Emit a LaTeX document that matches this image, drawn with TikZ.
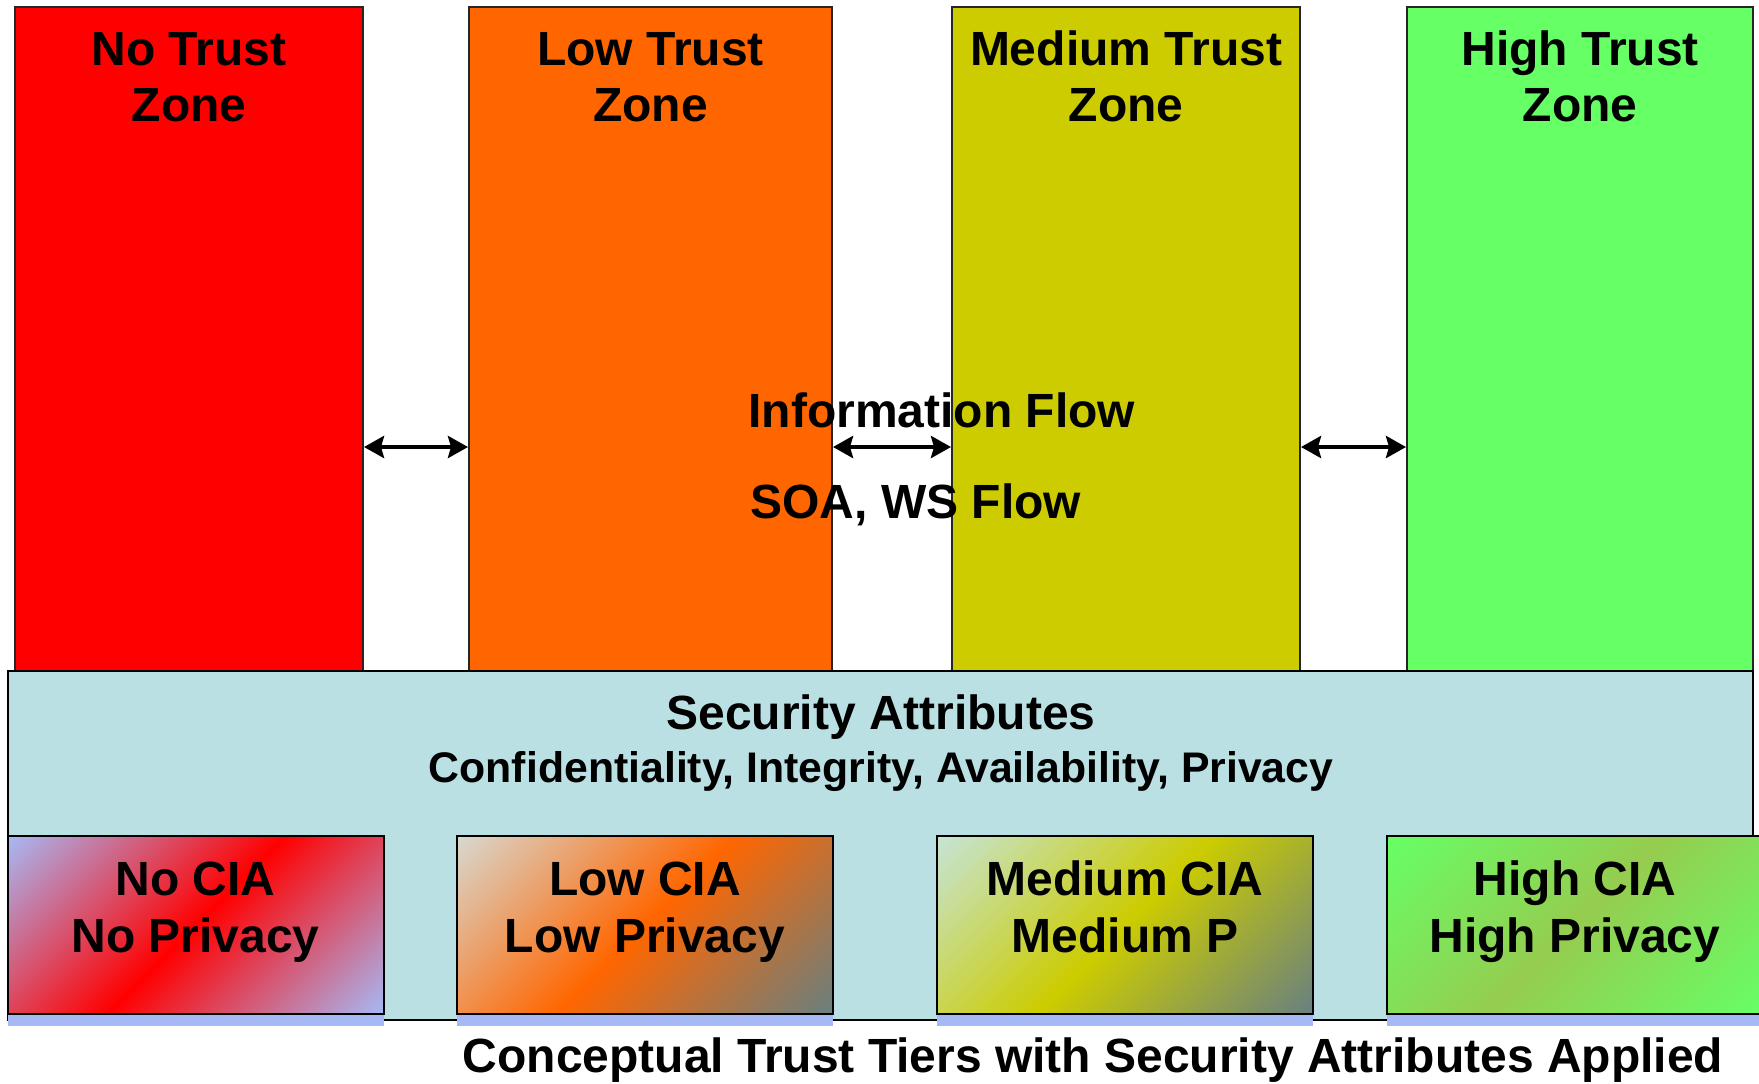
\documentclass[tikz,border=0pt]{standalone}
\usepackage{fontspec}
\setmainfont{Liberation Sans}
\usetikzlibrary{arrows.meta}

\definecolor{notrust}{RGB}{255,0,0}
\definecolor{lowtrust}{RGB}{255,102,0}
\definecolor{medtrust}{RGB}{204,204,0}
\definecolor{hightrust}{RGB}{102,255,102}
\definecolor{attrbg}{RGB}{186,224,227}
\definecolor{lilac}{RGB}{166,185,245}
\definecolor{palegrey}{RGB}{216,216,208}
\definecolor{palemint}{RGB}{198,228,214}
\definecolor{slate}{RGB}{104,128,128}
\definecolor{olive}{RGB}{150,204,80}

% diagonal bands for the CIA boxes (used with shading angle=45)
\pgfdeclareverticalshading{noband}{100bp}{color(0bp)=(lilac); color(14.6bp)=(lilac); color(50bp)=(notrust); color(85.4bp)=(lilac); color(100bp)=(lilac)}
\pgfdeclareverticalshading{lowband}{100bp}{color(0bp)=(slate); color(14.6bp)=(slate); color(50bp)=(lowtrust); color(85.4bp)=(palegrey); color(100bp)=(palegrey)}
\pgfdeclareverticalshading{medband}{100bp}{color(0bp)=(slate); color(14.6bp)=(slate); color(50bp)=(medtrust); color(85.4bp)=(palemint); color(100bp)=(palemint)}
\pgfdeclareverticalshading{highband}{100bp}{color(0bp)=(hightrust); color(14.6bp)=(hightrust); color(50bp)=(olive); color(85.4bp)=(hightrust); color(100bp)=(hightrust)}

\begin{document}
\begin{tikzpicture}[x=0.5pt,y=-0.5pt,
    zone/.style={draw=black!85,line width=1pt,inner sep=0pt,minimum height=332pt},
    ciabox/.style={draw=black,line width=1pt,inner sep=0pt,minimum width=188pt,minimum height=89pt,shade,shading=#1,shading angle=45},
    ciashadow/.style={fill=lilac,inner sep=0pt,minimum width=188pt,minimum height=6pt},
    bigtext/.style={font=\fontsize{24}{28}\selectfont\bfseries,inner sep=0pt,anchor=base},
    smalltext/.style={font=\fontsize{21.4}{26}\selectfont\bfseries,inner sep=0pt,anchor=base},
    flow/.style={{Stealth[length=10pt,width=11pt,inset=1.5pt]}-{Stealth[length=10pt,width=11pt,inset=1.5pt]},line width=2pt}]
  \useasboundingbox (0,0) rectangle (1759,1083);
  \clip (0,0) rectangle (1759,1083);
%%% trust zones
  \node[zone,fill=notrust,minimum width=174pt] (nozone) at (189,339) {};
  \node[zone,fill=lowtrust,minimum width=181.5pt] (lowzone) at (650.5,339) {};
  \node[zone,fill=medtrust,minimum width=174pt] (medzone) at (1126,339) {};
  \node[zone,fill=hightrust,minimum width=173pt] (highzone) at (1580,339) {};
  \foreach \zx/\zname/\zword in {189/no/No,650.5/low/Low,1126/med/Medium,1580/high/High} {
    \node[bigtext] (\zname-trust) at (\zx,65) {\zword\ Trust};
    \node[bigtext] (\zname-zone) at (\zx,121) {Zone};
  }
%%% flows between zones
  \coordinate (flowline) at (0,447);
  \draw[flow] (nozone.east |- flowline) -- (lowzone.west |- flowline);
  \draw[flow] (lowzone.east |- flowline) -- (medzone.west |- flowline);
  \draw[flow] (medzone.east |- flowline) -- (highzone.west |- flowline);
  \node[bigtext,anchor=base west] (infoflow) at (748,427) {Information Flow};
  \node[bigtext,anchor=base west] (soaflow) at (750,518) {SOA, WS Flow};
%%% security attributes
  \node[draw=black,line width=1pt,fill=attrbg,inner sep=0pt,minimum width=872.5pt,minimum height=174.5pt] (attrs) at (880.5,845.5) {};
  \node[bigtext] (attrtitle) at (881,729) {Security Attributes};
  \node[smalltext] (attrlist) at (881,782) {Confidentiality, Integrity, Availability, Privacy};
%%% CIA levels
  \foreach \cx/\cname in {195.5/no,645/low,1125/med,1575/high}
    \node[ciashadow] (\cname-shadow) at (\cx,1020) {};
  \node[ciabox=noband] (nocia) at (195.5,925) {};
  \node[ciabox=lowband] (lowcia) at (645,925) {};
  \node[ciabox=medband] (medcia) at (1125,925) {};
  \node[ciabox=highband] (highcia) at (1575,925) {};
  \node[bigtext] (nocia-a) at (195.5,895) {No CIA};
  \node[bigtext] (nocia-b) at (195.5,952) {No Privacy};
  \node[bigtext] (lowcia-a) at (645,895) {Low CIA};
  \node[bigtext] (lowcia-b) at (645,952) {Low Privacy};
  \node[bigtext] (medcia-a) at (1125,895) {Medium CIA};
  \node[bigtext] (medcia-b) at (1125,952) {Medium P};
  \node[bigtext] (highcia-a) at (1575,895) {High CIA};
  \node[bigtext] (highcia-b) at (1575,952) {High Privacy};
%%%
  \node[bigtext] (caption) at (1093,1072) {Conceptual Trust Tiers with Security Attributes Applied};
\end{tikzpicture}
\end{document}
